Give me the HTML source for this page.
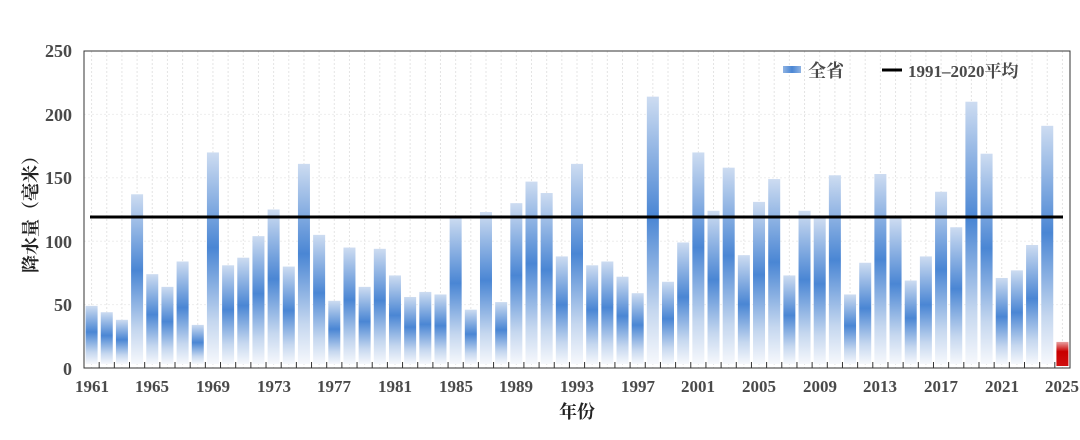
<!DOCTYPE html>
<html><head><meta charset="utf-8">
<style>
body{margin:0;background:#fff;width:1080px;height:435px;overflow:hidden;font-family:"Liberation Serif","Noto Serif CJK SC",serif;}
svg text{font-family:"Liberation Serif","Noto Serif CJK SC",serif;font-weight:bold;fill:#4a4a4a;}
</style></head><body>
<svg id="s" width="1080" height="435" xmlns="http://www.w3.org/2000/svg">
<defs>
<linearGradient id="g" x1="0" y1="0" x2="0" y2="1">
<stop offset="0" stop-color="#cddcf1"/>
<stop offset="0.45" stop-color="#4a86d4"/>
<stop offset="0.8" stop-color="#c5d7ef"/>
<stop offset="1" stop-color="#f6f8fc"/>
</linearGradient>
<linearGradient id="r" x1="0" y1="0" x2="0" y2="1">
<stop offset="0" stop-color="#e8a0a0"/>
<stop offset="0.4" stop-color="#c80000"/>
<stop offset="1" stop-color="#d01010"/>
</linearGradient>
<linearGradient id="lg" x1="0" y1="0" x2="1" y2="0">
<stop offset="0" stop-color="#8fb3e3"/><stop offset="0.5" stop-color="#4a86d4"/><stop offset="1" stop-color="#8fb3e3"/>
</linearGradient>
</defs>
<g id="grid"></g>
<g id="bars"></g>
<rect x="84" y="51" width="986" height="317" fill="none" stroke="#333" stroke-width="1"/>
<line x1="90" y1="217" x2="1063" y2="217" stroke="#000" stroke-width="3"/>
<g id="ticks"></g>
<g font-size="18" text-anchor="end">
<text x="72" y="375">0</text>
<text x="72" y="311">50</text>
<text x="72" y="248">100</text>
<text x="72" y="184">150</text>
<text x="72" y="121">200</text>
<text x="72" y="57">250</text>
</g>
<g font-size="17" text-anchor="middle">
<text x="92" y="392">1961</text><text x="152" y="392">1965</text><text x="213" y="392">1969</text>
<text x="274" y="392">1973</text><text x="334" y="392">1977</text><text x="395" y="392">1981</text>
<text x="456" y="392">1985</text><text x="516" y="392">1989</text><text x="577" y="392">1993</text>
<text x="638" y="392">1997</text><text x="698" y="392">2001</text><text x="759" y="392">2005</text>
<text x="820" y="392">2009</text><text x="880" y="392">2013</text><text x="941" y="392">2017</text>
<text x="1002" y="392">2021</text><text x="1062" y="392">2025</text>
</g>
<text x="577" y="418" font-size="18" text-anchor="middle" style="fill:#222">年份</text>
<text transform="translate(37,210) rotate(-90)" font-size="18" text-anchor="middle" style="fill:#222">降水量（毫米）</text>
<rect x="783" y="66" width="18" height="7" fill="url(#lg)"/>
<text x="808" y="77" font-size="18">全省</text>
<line x1="882" y1="70" x2="902" y2="70" stroke="#000" stroke-width="3"/>
<text x="908" y="77" font-size="17">1991–2020平均</text>
</svg>
<script>
var v=[49,44,38,137,74,64,84,34,170,81,87,104,125,80,161,105,53,95,64,94,73,56,60,58,119,46,123,52,130,147,138,88,161,81,84,72,59,214,68,99,170,124,158,89,131,149,73,124,118,152,58,83,153,118,69,88,139,111,210,169,71,77,97,191,19];
var ns="http://www.w3.org/2000/svg",L=84,W=986/65,B=368,k=317/250;
function el(p,n,a){var e=document.createElementNS(ns,n);for(var i in a)e.setAttribute(i,a[i]);document.getElementById(p).appendChild(e);}
for(var j=1;j<5;j++)el("grid","line",{x1:84,x2:1070,y1:B-j*50*k,y2:B-j*50*k,stroke:"#eee","stroke-dasharray":"2,2"});
for(var i=0;i<65;i++){var cx=L+W*(i+0.5);
el("grid","line",{x1:cx,x2:cx,y1:51,y2:368,stroke:"#e4e4e4","stroke-dasharray":"2,2"});
var h=v[i]*k;
if(i==64)el("bars","rect",{x:cx-6,y:B-h-2,width:12,height:h,fill:"url(#r)"});
else el("bars","rect",{x:cx-6,y:B-h,width:12,height:h-4,fill:"url(#g)"});
var tx=L+W*i;el("ticks","line",{x1:tx,x2:tx,y1:362,y2:368,stroke:"#333"});}
</script>
</body></html>
